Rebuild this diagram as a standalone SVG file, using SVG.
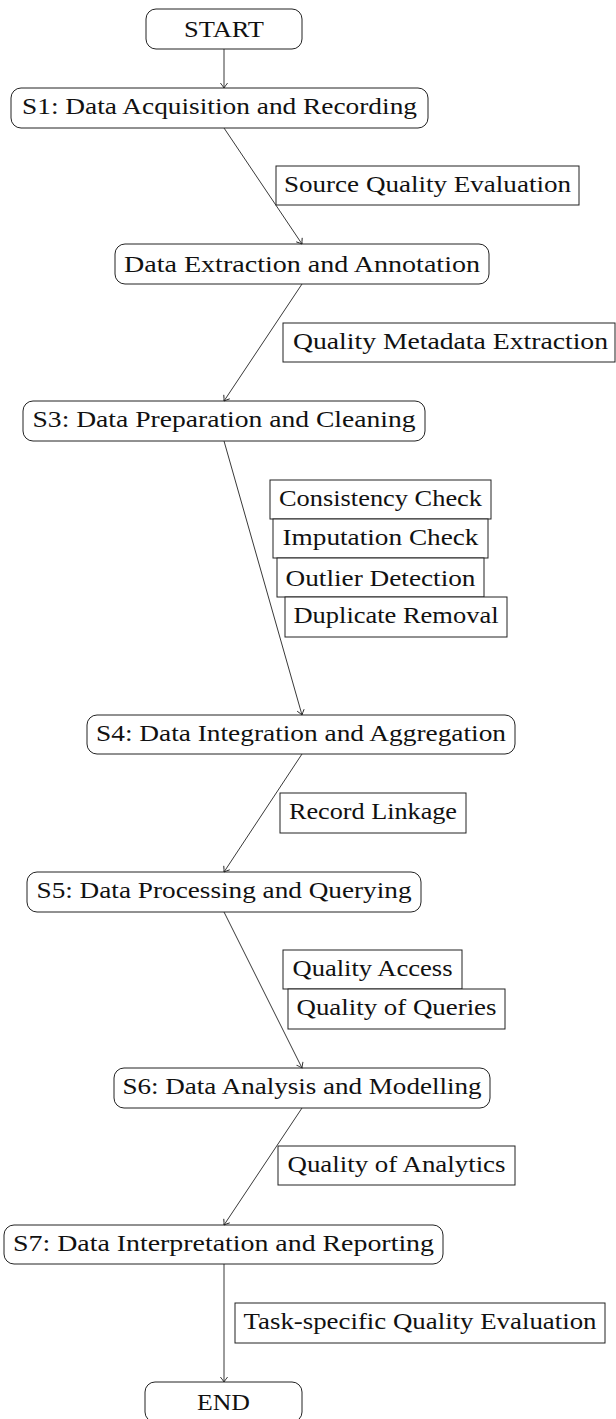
<svg xmlns="http://www.w3.org/2000/svg" width="616" height="1419" viewBox="0 0 616 1419">
<style>
.n rect{fill:#fff;stroke:#222;stroke-width:1}
.n text{font-family:"Liberation Serif","Times New Roman",serif;font-size:24px;fill:#111;text-anchor:middle}
.c line{stroke:#222;stroke-width:0.9;fill:none;marker-end:url(#arr)}
</style>
<defs>
<marker id="arr" markerUnits="userSpaceOnUse" markerWidth="12" markerHeight="12" viewBox="-6 -6 12 12" refX="0" refY="0" orient="auto">
<path d="M-5,-3.6 Q-1.6,-0.9 0,0 Q-1.6,0.9 -5,3.6" fill="none" stroke="#222" stroke-width="0.9"/>
</marker>
</defs>
<rect width="616" height="1419" fill="#fff"/>
<g id="start" class="n"><rect x="146" y="9" width="156" height="40" rx="10"/><text x="224" y="37.3" textLength="80" lengthAdjust="spacingAndGlyphs">START</text></g>
<g id="s1" class="n"><rect x="11" y="88" width="417" height="40" rx="10"/><text x="219.5" y="114" textLength="395" lengthAdjust="spacingAndGlyphs">S1: Data Acquisition and Recording</text></g>
<g id="sqe" class="n"><rect x="276" y="166" width="303" height="39"/><text x="427.5" y="191.5" textLength="287" lengthAdjust="spacingAndGlyphs">Source Quality Evaluation</text></g>
<g id="de" class="n"><rect x="115" y="244" width="374" height="40" rx="10"/><text x="302" y="272.3" textLength="356" lengthAdjust="spacingAndGlyphs">Data Extraction and Annotation</text></g>
<g id="qme" class="n"><rect x="283" y="323" width="332" height="39"/><text x="450.5" y="348.5" textLength="315" lengthAdjust="spacingAndGlyphs">Quality Metadata Extraction</text></g>
<g id="s3" class="n"><rect x="23" y="401" width="402" height="40" rx="10"/><text x="224" y="427" textLength="383" lengthAdjust="spacingAndGlyphs">S3: Data Preparation and Cleaning</text></g>
<g id="cc" class="n"><rect x="270" y="480" width="221" height="39"/><text x="380.5" y="505.5" textLength="203" lengthAdjust="spacingAndGlyphs">Consistency Check</text></g>
<g id="ic" class="n"><rect x="273" y="519" width="215" height="39"/><text x="380.5" y="544.5" textLength="196" lengthAdjust="spacingAndGlyphs">Imputation Check</text></g>
<g id="od" class="n"><rect x="277" y="558" width="207" height="39"/><text x="380.5" y="585.8" textLength="190" lengthAdjust="spacingAndGlyphs">Outlier Detection</text></g>
<g id="dr" class="n"><rect x="285" y="597" width="222" height="40"/><text x="396" y="623" textLength="205" lengthAdjust="spacingAndGlyphs">Duplicate Removal</text></g>
<g id="s4" class="n"><rect x="87" y="715" width="428" height="39" rx="10"/><text x="301" y="740.5" textLength="410" lengthAdjust="spacingAndGlyphs">S4: Data Integration and Aggregation</text></g>
<g id="rl" class="n"><rect x="280" y="793" width="186" height="40"/><text x="373" y="819" textLength="168" lengthAdjust="spacingAndGlyphs">Record Linkage</text></g>
<g id="s5" class="n"><rect x="27" y="872" width="394" height="40" rx="10"/><text x="224" y="898" textLength="375" lengthAdjust="spacingAndGlyphs">S5: Data Processing and Querying</text></g>
<g id="qa" class="n"><rect x="283" y="950" width="179" height="39"/><text x="372.5" y="975.5" textLength="160" lengthAdjust="spacingAndGlyphs">Quality Access</text></g>
<g id="qoq" class="n"><rect x="288" y="989" width="217" height="40"/><text x="396.5" y="1015" textLength="200" lengthAdjust="spacingAndGlyphs">Quality of Queries</text></g>
<g id="s6" class="n"><rect x="114" y="1068" width="376" height="40" rx="10"/><text x="302" y="1094" textLength="359" lengthAdjust="spacingAndGlyphs">S6: Data Analysis and Modelling</text></g>
<g id="qoa" class="n"><rect x="278" y="1146" width="237" height="39"/><text x="396.5" y="1171.5" textLength="218" lengthAdjust="spacingAndGlyphs">Quality of Analytics</text></g>
<g id="s7" class="n"><rect x="4" y="1225" width="439" height="39" rx="10"/><text x="223.5" y="1250.5" textLength="421" lengthAdjust="spacingAndGlyphs">S7: Data Interpretation and Reporting</text></g>
<g id="tqe" class="n"><rect x="235" y="1303" width="370" height="40"/><text x="420" y="1329" textLength="353" lengthAdjust="spacingAndGlyphs">Task-specific Quality Evaluation</text></g>
<g id="end" class="n"><rect x="145" y="1382" width="157" height="40" rx="10"/><text x="223.5" y="1410.3" textLength="53" lengthAdjust="spacingAndGlyphs">END</text></g>
<g id="connectors" class="c">
<line x1="224" y1="49" x2="224" y2="88"/>
<line x1="224" y1="128" x2="302" y2="244"/>
<line x1="302" y1="284" x2="224" y2="401"/>
<line x1="224" y1="441" x2="302" y2="715"/>
<line x1="302" y1="754" x2="224" y2="872"/>
<line x1="224" y1="912" x2="302" y2="1068"/>
<line x1="302" y1="1108" x2="224" y2="1225"/>
<line x1="224" y1="1264" x2="224" y2="1382"/>
</g>
</svg>
